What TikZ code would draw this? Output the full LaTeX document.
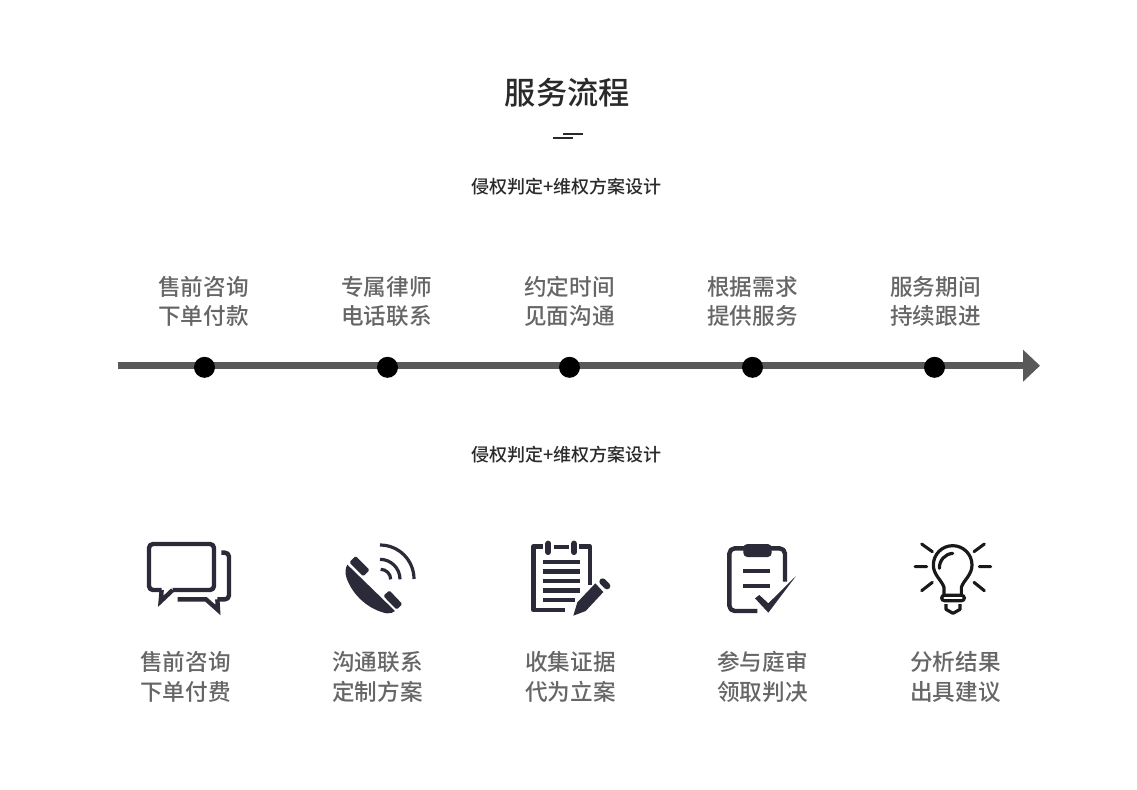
\documentclass[tikz,border=0pt]{standalone}
\usepackage{fontspec}
\usetikzlibrary{arrows.meta}
\newfontfamily\cjk{Noto Sans CJK SC}
\newfontfamily\cjkmed{Noto Sans CJK SC Medium}
\definecolor{icon}{HTML}{2A2A38}
\definecolor{grayt}{HTML}{666666}
\definecolor{axis}{HTML}{595959}
\definecolor{dark}{HTML}{2A2A2A}
\tikzset{
  titletext/.style={inner sep=0pt,text=dark,font=\fontsize{23.4pt}{28pt}\selectfont\cjkmed},
  subtext/.style={inner sep=0pt,text=dark,font=\fontsize{13.5pt}{16pt}\selectfont\cjkmed},
  toplabel/.style={inner sep=0pt,align=center,text=grayt,font=\fontsize{16.95pt}{21.75pt}\selectfont\cjkmed},
  botlabel/.style={inner sep=0pt,align=center,text=grayt,font=\fontsize{16.95pt}{22.5pt}\selectfont\cjkmed},
  dot/.style={circle,fill=black,minimum size=15.75pt,inner sep=0pt},
  iconline/.style={draw=icon,line width=3.3pt,line join=round,fill=none},
  zoomed/.style={x=0.25pt,y=-0.25pt},
  ray/.style={draw=black!90,line width=2.3pt,line cap=round},
  bulbline/.style={draw=black!90,line width=2.4pt}
}
\begin{document}
\begin{tikzpicture}[x=0.75pt,y=-0.75pt]
\useasboundingbox[fill=white] (0,0) rectangle (1137,789);
\node[titletext] (title) at (567.3,93) {服务流程};
\coordinate (ra) at (563,134); \coordinate (rb) at (583,134);
\coordinate (rc) at (553,138); \coordinate (rd) at (573,138);
\draw[dark,line width=1.4pt] (ra) -- (rb) (rc) -- (rd);
\node[subtext] (sub1) at (566.5,187) {侵权判定+维权方案设计};
\node[toplabel] (t1) at (203.5,301.5) {售前咨询\\下单付款};
\node[toplabel] (t2) at (386.5,301.5) {专属律师\\电话联系};
\node[toplabel] (t3) at (569.5,301.5) {约定时间\\见面沟通};
\node[toplabel] (t4) at (752.5,301.5) {根据需求\\提供服务};
\node[toplabel] (t5) at (935.5,301.5) {服务期间\\持续跟进};
\coordinate (ts) at (118,365.7); \coordinate (te) at (1040,365.7);
\draw[axis,line width=5.2pt,-{Triangle[length=12.75pt,width=23.25pt]}] (ts) -- (te);
\node[dot] (d1) at (204.5,367.3) {};
\node[dot] (d2) at (387.5,367.3) {};
\node[dot] (d3) at (569.5,367.3) {};
\node[dot] (d4) at (752.5,367.3) {};
\node[dot] (d5) at (934.5,367.3) {};
\node[subtext] (sub2) at (566.5,455) {侵权判定+维权方案设计};
\node[botlabel] (b1) at (185.5,677.2) {售前咨询\\下单付费};
\node[botlabel] (b2) at (377.5,677.2) {沟通联系\\定制方案};
\node[botlabel] (b3) at (570.5,677.2) {收集证据\\代为立案};
\node[botlabel] (b4) at (762.5,677.2) {参与庭审\\领取判决};
\node[botlabel] (b5) at (955.5,677.2) {分析结果\\出具建议};
% chat + phone
\begin{scope}[shift={(130,530)},zoomed]
  \draw[iconline,rounded corners=3pt] (128,180) -- (252,180) -- (252,42) -- (57,42) -- (57,180) -- (95,180);
  \draw[iconline,line join=miter] (128,180) -- (92,214) -- (95,180);
  \draw[iconline,rounded corners=3pt] (274,68) -- (297,68) -- (297,208) -- (262,208);
  \draw[iconline,line join=miter] (143,208) -- (228,208) -- (264,240) -- (262,208);
  \fill[icon] (652,104) .. controls (645,115) and (645,130) .. (650,145) .. controls (670,200) and (720,240) .. (770,250) .. controls (780,251) and (790,248) .. (795,243) -- cycle;
  \fill[icon,rounded corners=1pt] (677,78) -- (719,120) -- (700,139) -- (658,97) -- cycle;
  \fill[icon,rounded corners=1pt] (778,181) -- (817,222) -- (800,239) -- (760,198) -- cycle;
  \draw[icon,line width=2.4pt] (750,45) arc[start angle=-90,end angle=0,radius=102];
  \draw[icon,line width=2.4pt] (750,88) arc[start angle=-90,end angle=0,radius=60];
  \draw[icon,line width=2.4pt] (752,118) arc[start angle=-90,end angle=0,radius=30];
\end{scope}
% notepad + clipboard
\begin{scope}[shift={(520,530)},zoomed]
  \draw[iconline] (68,50) -- (40,50) -- (40,240) -- (135,240);
  \draw[iconline] (178,50) -- (210,50) -- (210,165);
  \draw[iconline,line width=2.8pt] (103,52) -- (146,52);
  \draw[icon,line width=4.6pt,line cap=round] (85,41) -- (85,66) (162,41) -- (162,66);
  \draw[icon,line width=3.3pt] (68,96) -- (180,96) (68,124) -- (180,124) (68,153) -- (180,153) (68,181) -- (180,181) (68,210) -- (165,210);
  \fill[icon] (160,257) -- (172,217) -- (226,160) -- (250,186) -- (197,243) -- cycle;
  \draw[icon,line width=5pt,line cap=round] (248,155) -- (261,168);
  \draw[iconline,rounded corners=4pt] (795,155) -- (795,55) -- (628,55) -- (628,243) -- (712,243);
  \fill[icon,rounded corners=3pt] (670,42) rectangle (755,81);
  \draw[icon,line width=2.9pt] (670,124) -- (750,124) (670,167) -- (750,167);
  \fill[icon] (705,205) -- (718,195) -- (745,220) -- (828,138) -- (745,248) -- cycle;
\end{scope}
% bulb
\begin{scope}[shift={(900,530)},zoomed]
  \draw[ray] (65,42) -- (97,65) (253,42) -- (222,65) (45,110) -- (80,110) (238,110) -- (272,110) (65,182) -- (97,157) (253,182) -- (222,157);
  \draw[bulbline,line join=round] (132,195) -- (132,172) .. controls (125,150) and (100,135) .. (100,105) arc[start angle=180,end angle=360,radius=58] .. controls (216,135) and (191,150) .. (184,172) -- (184,195);
  \draw[bulbline,line cap=round] (118,115) .. controls (118,90) and (135,72) .. (158,70);
  \draw[bulbline,rounded corners=2pt] (125,196) rectangle (193,212);
  \draw[bulbline,line join=round] (138,222) -- (138,238) -- (159,250) -- (180,238) -- (180,222);
\end{scope}
\end{tikzpicture}
\end{document}
